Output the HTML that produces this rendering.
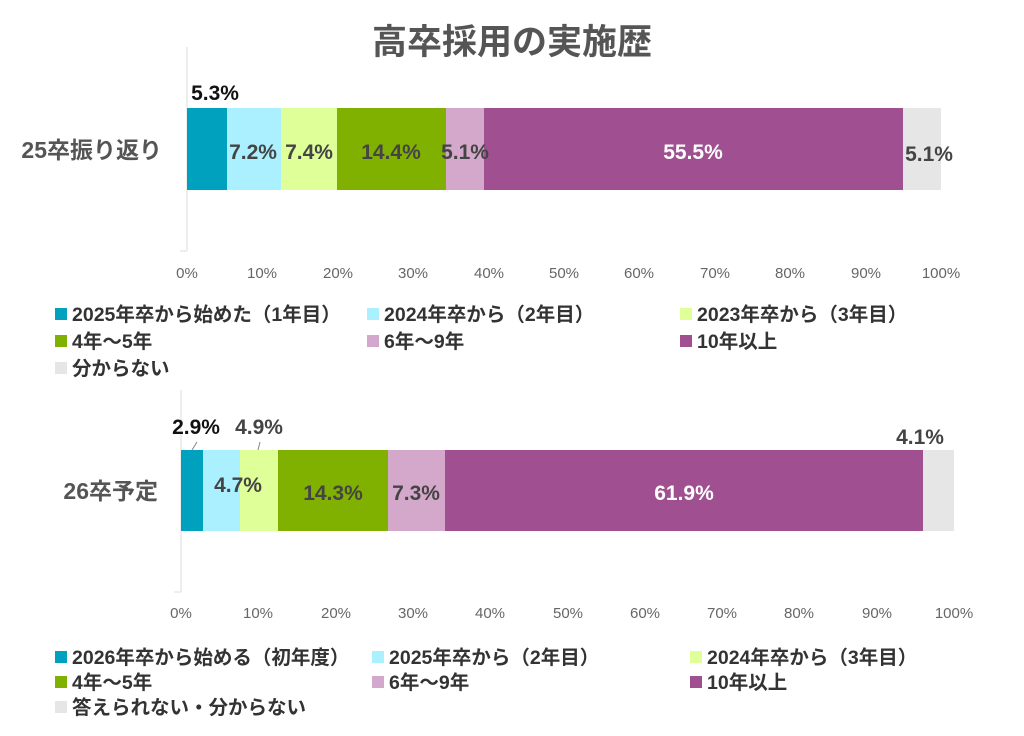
<!DOCTYPE html>
<html><head><meta charset="utf-8"><style>
html,body{margin:0;padding:0;background:#fff;}
svg{display:block;font-family:"Liberation Sans","Noto Sans CJK JP",sans-serif;}
.t{font-weight:bold;fill:#444;font-size:21px;text-anchor:middle;}
.tk{fill:#666;font-size:15px;text-anchor:middle;}
.lg{font-weight:bold;fill:#333;font-size:19.5px;}
.cat{font-weight:bold;fill:#555;font-size:23px;text-anchor:end;}
</style></head><body>
<svg width="1024" height="736" viewBox="0 0 1024 736">
<text x="512" y="54" style="font-size:35px;font-weight:bold;fill:#555;text-anchor:middle">高卒採用の実施歴</text>

<!-- chart 1 -->
<line x1="187" y1="47" x2="187" y2="251" stroke="#ddd"/>
<line x1="180" y1="251" x2="187" y2="251" stroke="#ddd"/>
<text class="cat" x="162" y="158">25卒振り返り</text>
<rect x="187" y="108" width="40" height="82" fill="#00A0BF"/>
<rect x="227" y="108" width="54" height="82" fill="#AAF0FF"/>
<rect x="281" y="108" width="56" height="82" fill="#DFFF99"/>
<rect x="337" y="108" width="109" height="82" fill="#80B000"/>
<rect x="446" y="108" width="38" height="82" fill="#D4A8CB"/>
<rect x="484" y="108" width="419" height="82" fill="#A05090"/>
<rect x="903" y="108" width="38" height="82" fill="#E6E6E6"/>
<text class="t" x="215" y="100" style="fill:#111">5.3%</text>
<text class="t" x="253" y="159">7.2%</text>
<text class="t" x="309" y="159">7.4%</text>
<text class="t" x="391" y="159">14.4%</text>
<text class="t" x="465" y="159">5.1%</text>
<text class="t" x="693" y="159" style="fill:#fff">55.5%</text>
<text class="t" x="929" y="161">5.1%</text>
<g class="tk">
<text x="187" y="278">0%</text><text x="262" y="278">10%</text><text x="338" y="278">20%</text><text x="413" y="278">30%</text><text x="489" y="278">40%</text><text x="564" y="278">50%</text><text x="639" y="278">60%</text><text x="715" y="278">70%</text><text x="790" y="278">80%</text><text x="866" y="278">90%</text><text x="941" y="278">100%</text>
</g>
<rect x="55" y="308" width="12" height="12" fill="#00A0BF"/><text class="lg" x="72" y="321">2025年卒から始めた（1年目）</text>
<rect x="367" y="308" width="12" height="12" fill="#AAF0FF"/><text class="lg" x="384" y="321">2024年卒から（2年目）</text>
<rect x="680" y="308" width="12" height="12" fill="#DFFF99"/><text class="lg" x="697" y="321">2023年卒から（3年目）</text>
<rect x="55" y="335" width="12" height="12" fill="#80B000"/><text class="lg" x="72" y="348">4年～5年</text>
<rect x="367" y="335" width="12" height="12" fill="#D4A8CB"/><text class="lg" x="384" y="348">6年～9年</text>
<rect x="680" y="335" width="12" height="12" fill="#A05090"/><text class="lg" x="697" y="348">10年以上</text>
<rect x="55" y="362" width="12" height="12" fill="#E6E6E6"/><text class="lg" x="72" y="375">分からない</text>

<!-- chart 2 -->
<line x1="181" y1="390" x2="181" y2="592" stroke="#ddd"/>
<line x1="174" y1="592" x2="181" y2="592" stroke="#ddd"/>
<text class="cat" x="158" y="499">26卒予定</text>
<rect x="181" y="450" width="22" height="81" fill="#00A0BF"/>
<rect x="203" y="450" width="37" height="81" fill="#AAF0FF"/>
<rect x="240" y="450" width="38" height="81" fill="#DFFF99"/>
<rect x="278" y="450" width="110" height="81" fill="#80B000"/>
<rect x="388" y="450" width="57" height="81" fill="#D4A8CB"/>
<rect x="445" y="450" width="478" height="81" fill="#A05090"/>
<rect x="923" y="450" width="31" height="81" fill="#E6E6E6"/>
<line x1="192" y1="450" x2="197" y2="442" stroke="#888"/>
<line x1="258" y1="450" x2="260" y2="442" stroke="#888"/>
<text class="t" x="196" y="434" style="fill:#111">2.9%</text>
<text class="t" x="259" y="434">4.9%</text>
<text class="t" x="238" y="492">4.7%</text>
<text class="t" x="333" y="500">14.3%</text>
<text class="t" x="416" y="500">7.3%</text>
<text class="t" x="684" y="500" style="fill:#fff">61.9%</text>
<text class="t" x="920" y="444">4.1%</text>
<g class="tk">
<text x="181" y="618">0%</text><text x="258" y="618">10%</text><text x="336" y="618">20%</text><text x="413" y="618">30%</text><text x="490" y="618">40%</text><text x="568" y="618">50%</text><text x="645" y="618">60%</text><text x="722" y="618">70%</text><text x="799" y="618">80%</text><text x="877" y="618">90%</text><text x="954" y="618">100%</text>
</g>
<rect x="55" y="651" width="12" height="12" fill="#00A0BF"/><text class="lg" x="72" y="664">2026年卒から始める（初年度）</text>
<rect x="372" y="651" width="12" height="12" fill="#AAF0FF"/><text class="lg" x="389" y="664">2025年卒から（2年目）</text>
<rect x="690" y="651" width="12" height="12" fill="#DFFF99"/><text class="lg" x="707" y="664">2024年卒から（3年目）</text>
<rect x="55" y="676" width="12" height="12" fill="#80B000"/><text class="lg" x="72" y="689">4年～5年</text>
<rect x="372" y="676" width="12" height="12" fill="#D4A8CB"/><text class="lg" x="389" y="689">6年～9年</text>
<rect x="690" y="676" width="12" height="12" fill="#A05090"/><text class="lg" x="707" y="689">10年以上</text>
<rect x="55" y="701" width="12" height="12" fill="#E6E6E6"/><text class="lg" x="72" y="714">答えられない・分からない</text>
</svg>
</body></html>
